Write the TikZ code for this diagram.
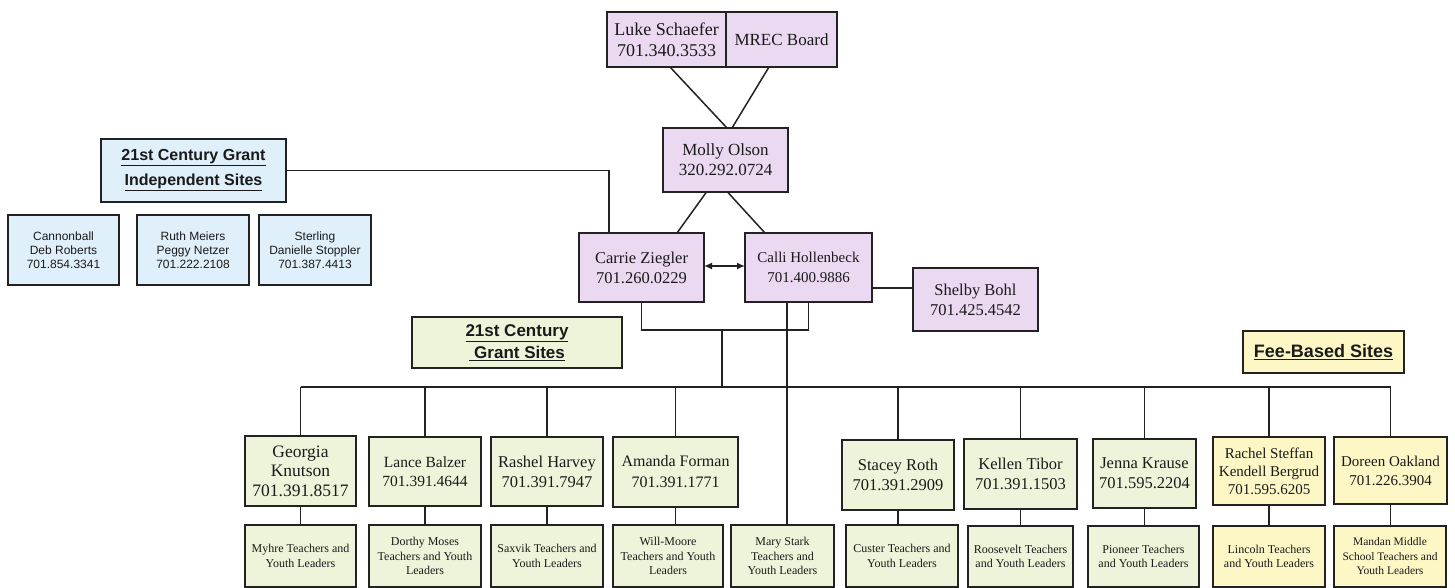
\documentclass[tikz,border=0pt]{standalone}
\usepackage{fontspec}
\setmainfont{Liberation Serif}
\newfontfamily\arialfont{Liberation Sans}
\usetikzlibrary{arrows.meta,calc}
\definecolor{edge}{HTML}{222222}
\definecolor{ink}{HTML}{1A1A1A}
\definecolor{lav}{HTML}{EBD8F1}
\definecolor{skyb}{HTML}{E0F0FA}
\definecolor{lgreen}{HTML}{EEF4DA}
\definecolor{lyel}{HTML}{FCF7C4}
\newcommand\mkbox[7]{%
  \node[#1, minimum width={(#4-#3)*1pt}, minimum height={(#6-#5)*1pt}] (#2) at ({(#3+#4)/2},{(#5+#6)/2}) {#7};}
\newcommand\fs[2]{\fontsize{#1}{#2}\selectfont}
\tikzset{
  bx/.style={draw=edge, line width=1.8pt, align=center, inner sep=1pt, outer sep=0pt, text=ink},
  pur/.style={bx, fill=lav},
  blu/.style={bx, fill=skyb, font=\arialfont\fs{12}{14}},
  grn/.style={bx, fill=lgreen},
  yel/.style={bx, fill=lyel},
  sub/.style={font=\fs{12}{14.5}},
  wire/.style={draw=edge, line width=1.5pt},
  tip/.style={{Latex[length=8pt,width=7pt]}-{Latex[length=8pt,width=7pt]}},
}
\begin{document}
\begin{tikzpicture}[x=1pt,y=-1pt]
\useasboundingbox (0,0) rectangle (1455,588);
% top
\mkbox{pur,font=\fs{18}{21}}{luke}{607}{726}{12}{67}{Luke Schaefer\\701.340.3533}
\mkbox{pur,font=\fs{17}{20}}{mrec}{726}{837}{12}{67}{MREC Board}
\mkbox{pur,font=\fs{17}{20}}{molly}{663}{788}{128}{192}{Molly Olson\\320.292.0724}
\mkbox{pur,font=\fs{16.5}{20}}{carrie}{579}{704}{233}{302}{Carrie Ziegler\\701.260.0229}
\mkbox{pur,font=\fs{15}{20}}{calli}{745}{872}{233}{302}{Calli Hollenbeck\\701.400.9886}
\mkbox{pur,font=\fs{16.5}{20}}{shelby}{913}{1038}{268}{331}{Shelby Bohl\\701.425.4542}
% independent sites
\mkbox{blu,font=\arialfont\bfseries\fs{16}{25}}{indep}{101}{286}{139}{202}{\underline{21st Century Grant}\\\underline{Independent Sites}}
\mkbox{blu}{cannon}{8}{119}{215}{285}{Cannonball\\Deb Roberts\\701.854.3341}
\mkbox{blu}{ruth}{137}{249}{215}{285}{Ruth Meiers\\Peggy Netzer\\701.222.2108}
\mkbox{blu}{sterling}{259}{371}{215}{285}{Sterling\\Danielle Stoppler\\701.387.4413}
% headers
\mkbox{grn,font=\arialfont\bfseries\fs{17}{22}}{grant}{412}{622}{317}{368}{\underline{21st Century}\\\underline{\hspace{0.3em}Grant Sites}}
\mkbox{yel,font=\arialfont\bfseries\fs{18}{22}}{fee}{1243}{1404}{331}{373}{\underline{Fee-Based Sites}}
% second level
\mkbox{grn,font=\fs{17.5}{19.5}}{georgia}{245}{356}{436}{506}{Georgia\\Knutson\\701.391.8517}
\mkbox{grn,font=\fs{15.5}{19}}{lance}{369}{481}{437}{506}{Lance Balzer\\701.391.4644}
\mkbox{grn,font=\fs{16.5}{20}}{rashel}{491}{603}{437}{506}{Rashel Harvey\\701.391.7947}
\mkbox{grn,font=\fs{16}{21}}{amanda}{613}{738}{437}{507}{Amanda Forman\\701.391.1771}
\mkbox{grn,font=\fs{16.5}{20}}{stacey}{842}{954}{440}{510}{Stacey Roth\\701.391.2909}
\mkbox{grn,font=\fs{16.5}{20}}{kellen}{964}{1077}{439}{509}{Kellen Tibor\\701.391.1503}
\mkbox{grn,font=\fs{16.5}{20}}{jenna}{1093}{1196}{439}{508}{Jenna Krause\\701.595.2204}
\mkbox{yel,font=\fs{15}{18}}{rachel}{1213}{1325}{437}{505}{Rachel Steffan\\Kendell Bergrud\\701.595.6205}
\mkbox{yel,font=\fs{15}{19}}{doreen}{1334}{1447}{437}{504}{Doreen Oakland\\701.226.3904}
% bottom row
\mkbox{grn,sub}{myhre}{245}{356}{525}{587}{Myhre Teachers and\\Youth Leaders}
\mkbox{grn,sub}{dorthy}{369}{481}{525}{587}{Dorthy Moses\\Teachers and Youth\\Leaders}
\mkbox{grn,sub}{saxvik}{491}{603}{525}{587}{Saxvik Teachers and\\Youth Leaders}
\mkbox{grn,sub}{will}{613}{723}{525}{587}{Will-Moore\\Teachers and Youth\\Leaders}
\mkbox{grn,sub}{mary}{731}{834}{525}{587}{Mary Stark\\Teachers and\\Youth Leaders}
\mkbox{grn,sub}{custer}{846}{958}{525}{587}{Custer Teachers and\\Youth Leaders}
\mkbox{grn,sub}{roosevelt}{968}{1073}{526}{587}{Roosevelt Teachers\\and Youth Leaders}
\mkbox{grn,sub}{pioneer}{1088}{1199}{526}{587}{Pioneer Teachers\\and Youth Leaders}
\mkbox{yel,sub}{lincoln}{1213}{1325}{526}{587}{Lincoln Teachers\\and Youth Leaders}
\mkbox{yel,font=\fs{11.5}{14.5}}{mandan}{1334}{1446}{526}{587}{Mandan Middle\\School Teachers and\\Youth Leaders}
% connectors
\draw[wire] ([xshift=3.5]luke.south) -- ([xshift=1.5]molly.north);
\draw[wire] ([xshift=-12.5]mrec.south) -- ([xshift=6.5]molly.north);
\draw[wire] ([xshift=-19]molly.south) -- ([xshift=35.5]carrie.north);
\draw[wire] ([xshift=2]molly.south) -- ([xshift=-43.5]calli.north);
\draw[wire,tip] ([yshift=1.5]carrie.east) -- ([yshift=1.5]carrie.east -| calli.west);
\draw[wire] ([yshift=-20.5]calli.east) -- ([yshift=-20.5]calli.east -| shelby.west);
\draw[wire] (indep.east) -| ([xshift=-32.5]carrie.north);
\coordinate (br) at (722,330);
\coordinate (bus) at (722,387);
\draw[wire] (carrie.south) -- (carrie.south |- br) -- (calli.south |- br) -- (calli.south);
\draw[wire] (br) -- (bus);
\draw[wire] (georgia.north |- bus) -- (doreen.north |- bus);
\foreach \n in {georgia,lance,rashel,amanda,stacey,kellen,jenna,rachel,doreen}
  \draw[wire] (\n.north) -- (\n.north |- bus);
\draw[wire] ([xshift=-21.5]calli.south) -- ([xshift=-21.5]calli.south |- mary.north);
\foreach \a/\b in {georgia/myhre,lance/dorthy,rashel/saxvik,amanda/will,stacey/custer,kellen/roosevelt,jenna/pioneer,rachel/lincoln,doreen/mandan}
  \draw[wire] (\a.south) -- (\a.south |- \b.north);
\end{tikzpicture}
\end{document}
